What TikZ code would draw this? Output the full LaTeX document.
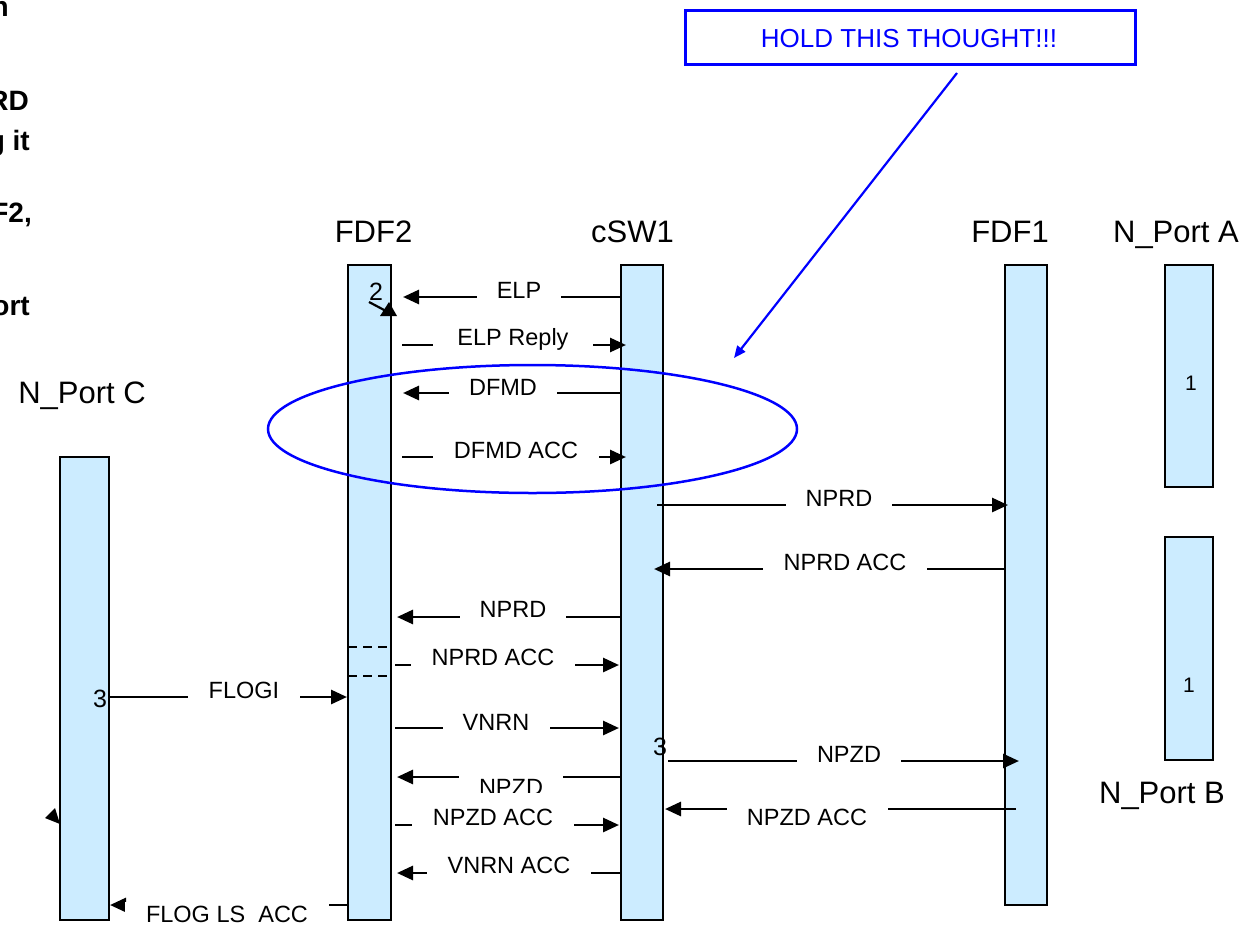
\documentclass[tikz,border=0pt]{standalone}
\usepackage{fontspec}
\setmainfont{Liberation Sans}
\usetikzlibrary{arrows.meta}
\definecolor{lifefill}{RGB}{204,236,255}
\definecolor{callblue}{RGB}{0,0,255}
\begin{document}
\begin{tikzpicture}[x=1pt,y=-1pt,
  lifebox/.style={draw=black, line width=2.8pt, fill=lifefill, inner sep=0pt, outer sep=0pt, anchor=north west},
  msg/.style={line width=2.8pt, -{Triangle[length=16pt,width=14pt]}},
  lbl/.style={fill=white, inner xsep=0pt, inner ysep=4pt, anchor=base, font=\fontsize{23.5}{27}\selectfont},
  head/.style={anchor=base, inner sep=0pt, font=\fontsize{31}{35}\selectfont},
  frag/.style={anchor=base east, inner sep=0pt, font=\fontsize{28}{32}\selectfont\bfseries},
  num/.style={anchor=base, inner sep=0pt, font=\fontsize{25}{28}\selectfont},
  small/.style={anchor=base, inner sep=0pt, font=\fontsize{21}{24}\selectfont},
  callout/.style={draw=callblue, line width=2.5pt}
]
\useasboundingbox (0,0) rectangle (1258,924);

% cut-off text at the left edge
\node[frag] (f1) at (9,16) {n};
\node[frag] (f2) at (29,110) {RD};
\node[frag] (f3) at (30,150) {g it};
\node[frag] (f4) at (32,222) {F2,};
\node[frag] (f5) at (30,315) {ort};

% lifelines
\node[lifebox, minimum width=49pt, minimum height=463pt] (npc) at (60,457) {};
\node[lifebox, minimum width=43pt, minimum height=655pt] (fdf2) at (348,265) {};
\node[lifebox, minimum width=42pt, minimum height=655pt] (csw1) at (621,265) {};
\node[lifebox, minimum width=42pt, minimum height=640pt] (fdf1) at (1005,265) {};
\node[lifebox, minimum width=48pt, minimum height=222pt] (npa) at (1165,265) {};
\node[lifebox, minimum width=48pt, minimum height=223pt] (npb) at (1165,537) {};

% lifeline titles
\node[head] (tfdf2) at (373.5,242) {FDF2};
\node[head] (tcsw1) at (632.5,242) {cSW1};
\node[head] (tfdf1) at (1010,242) {FDF1};
\node[head] (tnpa) at (1176,242) {N\_Port A};
\node[head] (tnpb) at (1162,803) {N\_Port B};
\node[head] (tnpc) at (82,403) {N\_Port C};

% numbers
\node[num] (n2) at (376,300) {2};
\node[num] (n3a) at (100,707) {3};
\node[num] (n3b) at (660,755) {3};
\node[small] (n1a) at (1191,390) {1};
\node[small] (n1b) at (1189,692) {1};

% small marks
\draw[line width=2.2pt] (369,302) -- (386,311);
\fill (380,316) -- (397,316) -- (389,302) -- cycle;
\fill (45,818) -- (55,808) -- (60,824) -- cycle;
\draw[line width=2.4pt, dash pattern=on 9pt off 6pt] (348,647) -- (392,647);
\draw[line width=2.4pt, dash pattern=on 9pt off 6pt] (348,676) -- (392,676);

% message end points
\coordinate (a1) at (621,297);  \coordinate (b1) at (403,297);
\coordinate (a2) at (402,345);  \coordinate (b2) at (626,345);
\coordinate (a3) at (621,393);  \coordinate (b3) at (403,393);
\coordinate (a4) at (402,457);  \coordinate (b4) at (626,457);
\coordinate (a5) at (657,505);  \coordinate (b5) at (1008,505);
\coordinate (a6) at (1004,569); \coordinate (b6) at (654,569);
\coordinate (a7) at (620,617);  \coordinate (b7) at (397,617);
\coordinate (a8) at (395,665);  \coordinate (b8) at (619,665);
\coordinate (a9) at (109,697);  \coordinate (b9) at (347,697);
\coordinate (a10) at (395,728); \coordinate (b10) at (619,728);
\coordinate (a11) at (668,761); \coordinate (b11) at (1019,761);
\coordinate (a12) at (620,777); \coordinate (b12) at (397,777);
\coordinate (a13) at (1016,809);\coordinate (b13) at (665,809);
\coordinate (a14) at (395,825); \coordinate (b14) at (619,825);
\coordinate (a15) at (620,873); \coordinate (b15) at (397,873);
\coordinate (a16) at (348,905); \coordinate (b16) at (110,905);

% messages
\draw[msg] (a1) -- (b1);
\node[lbl, minimum width=84pt] (l1) at (519,298) {ELP};
\draw[msg] (a2) -- (b2);
\node[lbl, minimum width=160pt] (l2) at (513,345) {ELP Reply};
\draw[msg] (a3) -- (b3);
\node[lbl, minimum width=108pt] (l3) at (503,395) {DFMD};
\draw[msg] (a4) -- (b4);
\node[lbl, minimum width=166pt] (l4) at (516,458) {DFMD ACC};
\draw[msg] (a5) -- (b5);
\node[lbl, minimum width=106pt] (l5) at (839,506) {NPRD};
\draw[msg] (a6) -- (b6);
\node[lbl, minimum width=164pt] (l6) at (845,570) {NPRD ACC};
\draw[msg] (a7) -- (b7);
\node[lbl, minimum width=106pt] (l7) at (513,617) {NPRD};
\draw[msg] (a8) -- (b8);
\node[lbl, minimum width=164pt] (l8) at (493,665) {NPRD ACC};
\draw[msg] (a9) -- (b9);
\node[lbl, minimum width=112pt] (l9) at (244,698) {FLOGI};
\draw[msg] (a10) -- (b10);
\node[lbl, minimum width=107pt] (l10) at (496,730) {VNRN};
\draw[msg] (a11) -- (b11);
\node[lbl, minimum width=104pt] (l11) at (849,762) {NPZD};
\draw[msg] (a12) -- (b12);
\node[lbl, minimum width=104pt] (l12) at (511,795) {NPZD};
\draw[msg] (a13) -- (b13);
\node[lbl, minimum width=161pt] (l13) at (807,825) {NPZD ACC};
\draw[msg] (a14) -- (b14);
\node[lbl, minimum width=162pt, inner ysep=16pt] (l14) at (493,825) {NPZD ACC};
\draw[msg] (a15) -- (b15);
\node[lbl, minimum width=164pt] (l15) at (509,873) {VNRN ACC};
\draw[msg] (a16) -- (b16);
\node[lbl, minimum width=204pt] (l16) at (227,922) {FLOG LS\ \ ACC};

% callout
\node[callout, minimum width=450pt, minimum height=54pt, inner sep=0pt, anchor=north west] (hold) at (684,9) {};
\node[anchor=base, inner sep=0pt, text=callblue, font=\fontsize{26}{30}\selectfont] (holdt) at (909,47) {HOLD THIS THOUGHT!!!};
\coordinate (cs) at (957,73);
\coordinate (ce) at (734,358);
\draw[callout, line width=2.2pt, -{Triangle[length=12pt,width=10pt]}] (cs) -- (ce);
\draw[callout] (532.5,429) ellipse [x radius=264.5pt, y radius=64pt];
\end{tikzpicture}
\end{document}
